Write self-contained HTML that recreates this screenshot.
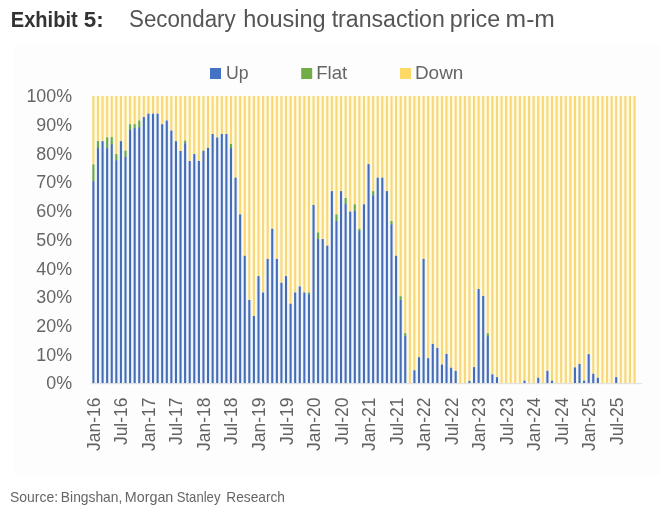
<!DOCTYPE html>
<html><head><meta charset="utf-8"><title>Exhibit 5</title>
<style>
html,body{margin:0;padding:0;background:#fff;}
body{width:660px;height:517px;overflow:hidden;position:relative;font-family:"Liberation Sans",sans-serif;}
#bg{position:absolute;left:13px;top:45px;width:647px;height:429.5px;background:#fdfdfd;}
svg{position:absolute;left:0;top:0;will-change:transform;}
.ax{font-family:"Liberation Sans",sans-serif;font-size:17.6px;fill:#666;}
.t1{font-family:"Liberation Sans",sans-serif;font-size:21.5px;font-weight:bold;fill:#333;}
.t2{font-family:"Liberation Sans",sans-serif;font-size:23px;fill:#555;}
.src{font-family:"Liberation Sans",sans-serif;font-size:14.6px;fill:#666;}
.xl{font-family:"Liberation Sans",sans-serif;font-size:17.9px;fill:#626262;}
.lg{font-family:"Liberation Sans",sans-serif;font-size:18.5px;fill:#666;}
</style></head><body>
<div id="bg"></div>
<svg width="660" height="517" viewBox="0 0 660 517" shape-rendering="auto">
<g shape-rendering="crispEdges">
<rect x="91.95" y="96.10" width="3.743" height="68.33" fill="#fffce2"/>
<rect x="91.95" y="164.43" width="3.743" height="16.65" fill="#f0f8eb"/>
<rect x="91.95" y="181.08" width="3.743" height="202.12" fill="#f0f6ff"/>
<rect x="95.69" y="96.10" width="4.586" height="45.07" fill="#fffce2"/>
<rect x="95.69" y="141.17" width="4.586" height="6.89" fill="#f0f8eb"/>
<rect x="95.69" y="148.07" width="4.586" height="235.13" fill="#f0f6ff"/>
<rect x="100.28" y="96.10" width="4.586" height="45.07" fill="#fffce2"/>
<rect x="100.28" y="141.17" width="4.586" height="242.03" fill="#f0f6ff"/>
<rect x="104.86" y="96.10" width="4.586" height="41.34" fill="#fffce2"/>
<rect x="104.86" y="137.44" width="4.586" height="10.62" fill="#f0f8eb"/>
<rect x="104.86" y="148.07" width="4.586" height="235.13" fill="#f0f6ff"/>
<rect x="109.45" y="96.10" width="4.586" height="41.06" fill="#fffce2"/>
<rect x="109.45" y="137.16" width="4.586" height="6.89" fill="#f0f8eb"/>
<rect x="109.45" y="144.05" width="4.586" height="239.15" fill="#f0f6ff"/>
<rect x="114.04" y="96.10" width="4.586" height="57.99" fill="#fffce2"/>
<rect x="114.04" y="154.09" width="4.586" height="6.03" fill="#f0f8eb"/>
<rect x="114.04" y="160.12" width="4.586" height="223.08" fill="#f0f6ff"/>
<rect x="118.62" y="96.10" width="4.586" height="45.07" fill="#fffce2"/>
<rect x="118.62" y="141.17" width="4.586" height="242.03" fill="#f0f6ff"/>
<rect x="123.21" y="96.10" width="4.586" height="54.55" fill="#fffce2"/>
<rect x="123.21" y="150.65" width="4.586" height="6.32" fill="#f0f8eb"/>
<rect x="123.21" y="156.97" width="4.586" height="226.23" fill="#f0f6ff"/>
<rect x="127.80" y="96.10" width="4.586" height="28.14" fill="#fffce2"/>
<rect x="127.80" y="124.24" width="4.586" height="5.74" fill="#f0f8eb"/>
<rect x="127.80" y="129.98" width="4.586" height="253.22" fill="#f0f6ff"/>
<rect x="132.38" y="96.10" width="4.586" height="28.14" fill="#fffce2"/>
<rect x="132.38" y="124.24" width="4.586" height="3.73" fill="#f0f8eb"/>
<rect x="132.38" y="127.97" width="4.586" height="255.23" fill="#f0f6ff"/>
<rect x="136.97" y="96.10" width="4.586" height="24.40" fill="#fffce2"/>
<rect x="136.97" y="120.50" width="4.586" height="6.60" fill="#f0f8eb"/>
<rect x="136.97" y="127.11" width="4.586" height="256.09" fill="#f0f6ff"/>
<rect x="141.55" y="96.10" width="4.586" height="20.96" fill="#fffce2"/>
<rect x="141.55" y="117.06" width="4.586" height="266.14" fill="#f0f6ff"/>
<rect x="146.14" y="96.10" width="4.586" height="17.51" fill="#fffce2"/>
<rect x="146.14" y="113.61" width="4.586" height="269.59" fill="#f0f6ff"/>
<rect x="150.72" y="96.10" width="4.586" height="17.51" fill="#fffce2"/>
<rect x="150.72" y="113.61" width="4.586" height="269.59" fill="#f0f6ff"/>
<rect x="155.31" y="96.10" width="4.586" height="17.51" fill="#fffce2"/>
<rect x="155.31" y="113.61" width="4.586" height="269.59" fill="#f0f6ff"/>
<rect x="159.90" y="96.10" width="4.586" height="28.14" fill="#fffce2"/>
<rect x="159.90" y="124.24" width="4.586" height="258.96" fill="#f0f6ff"/>
<rect x="164.48" y="96.10" width="4.586" height="24.40" fill="#fffce2"/>
<rect x="164.48" y="120.50" width="4.586" height="262.70" fill="#f0f6ff"/>
<rect x="169.07" y="96.10" width="4.586" height="34.45" fill="#fffce2"/>
<rect x="169.07" y="130.55" width="4.586" height="252.65" fill="#f0f6ff"/>
<rect x="173.66" y="96.10" width="4.586" height="45.07" fill="#fffce2"/>
<rect x="173.66" y="141.17" width="4.586" height="242.03" fill="#f0f6ff"/>
<rect x="178.24" y="96.10" width="4.586" height="54.84" fill="#fffce2"/>
<rect x="178.24" y="150.94" width="4.586" height="232.26" fill="#f0f6ff"/>
<rect x="182.83" y="96.10" width="4.586" height="44.50" fill="#fffce2"/>
<rect x="182.83" y="140.60" width="4.586" height="2.58" fill="#f0f8eb"/>
<rect x="182.83" y="143.18" width="4.586" height="240.02" fill="#f0f6ff"/>
<rect x="187.41" y="96.10" width="4.586" height="64.88" fill="#fffce2"/>
<rect x="187.41" y="160.98" width="4.586" height="222.22" fill="#f0f6ff"/>
<rect x="192.00" y="96.10" width="4.586" height="57.99" fill="#fffce2"/>
<rect x="192.00" y="154.09" width="4.586" height="229.11" fill="#f0f6ff"/>
<rect x="196.59" y="96.10" width="4.586" height="64.88" fill="#fffce2"/>
<rect x="196.59" y="160.98" width="4.586" height="222.22" fill="#f0f6ff"/>
<rect x="201.17" y="96.10" width="4.586" height="54.55" fill="#fffce2"/>
<rect x="201.17" y="150.65" width="4.586" height="232.55" fill="#f0f6ff"/>
<rect x="205.76" y="96.10" width="4.586" height="51.68" fill="#fffce2"/>
<rect x="205.76" y="147.78" width="4.586" height="235.42" fill="#f0f6ff"/>
<rect x="210.34" y="96.10" width="4.586" height="37.90" fill="#fffce2"/>
<rect x="210.34" y="134.00" width="4.586" height="249.20" fill="#f0f6ff"/>
<rect x="214.93" y="96.10" width="4.586" height="41.34" fill="#fffce2"/>
<rect x="214.93" y="137.44" width="4.586" height="245.76" fill="#f0f6ff"/>
<rect x="219.52" y="96.10" width="4.586" height="37.90" fill="#fffce2"/>
<rect x="219.52" y="134.00" width="4.586" height="249.20" fill="#f0f6ff"/>
<rect x="224.10" y="96.10" width="4.586" height="37.90" fill="#fffce2"/>
<rect x="224.10" y="134.00" width="4.586" height="249.20" fill="#f0f6ff"/>
<rect x="228.69" y="96.10" width="4.586" height="47.95" fill="#fffce2"/>
<rect x="228.69" y="144.05" width="4.586" height="4.02" fill="#f0f8eb"/>
<rect x="228.69" y="148.07" width="4.586" height="235.13" fill="#f0f6ff"/>
<rect x="233.27" y="96.10" width="4.586" height="81.54" fill="#fffce2"/>
<rect x="233.27" y="177.64" width="4.586" height="205.56" fill="#f0f6ff"/>
<rect x="237.86" y="96.10" width="4.586" height="118.29" fill="#fffce2"/>
<rect x="237.86" y="214.39" width="4.586" height="168.81" fill="#f0f6ff"/>
<rect x="242.45" y="96.10" width="4.586" height="159.63" fill="#fffce2"/>
<rect x="242.45" y="255.73" width="4.586" height="127.47" fill="#f0f6ff"/>
<rect x="247.03" y="96.10" width="4.586" height="203.84" fill="#fffce2"/>
<rect x="247.03" y="299.94" width="4.586" height="83.26" fill="#f0f6ff"/>
<rect x="251.62" y="96.10" width="4.586" height="219.92" fill="#fffce2"/>
<rect x="251.62" y="316.02" width="4.586" height="67.18" fill="#f0f6ff"/>
<rect x="256.20" y="96.10" width="4.586" height="180.01" fill="#fffce2"/>
<rect x="256.20" y="276.11" width="4.586" height="107.09" fill="#f0f6ff"/>
<rect x="260.79" y="96.10" width="4.586" height="196.38" fill="#fffce2"/>
<rect x="260.79" y="292.48" width="4.586" height="90.72" fill="#f0f6ff"/>
<rect x="265.38" y="96.10" width="4.586" height="162.79" fill="#fffce2"/>
<rect x="265.38" y="258.89" width="4.586" height="124.31" fill="#f0f6ff"/>
<rect x="269.96" y="96.10" width="4.586" height="132.64" fill="#fffce2"/>
<rect x="269.96" y="228.74" width="4.586" height="154.46" fill="#f0f6ff"/>
<rect x="274.55" y="96.10" width="4.586" height="162.79" fill="#fffce2"/>
<rect x="274.55" y="258.89" width="4.586" height="124.31" fill="#f0f6ff"/>
<rect x="279.13" y="96.10" width="4.586" height="186.61" fill="#fffce2"/>
<rect x="279.13" y="282.71" width="4.586" height="100.49" fill="#f0f6ff"/>
<rect x="283.72" y="96.10" width="4.586" height="180.01" fill="#fffce2"/>
<rect x="283.72" y="276.11" width="4.586" height="107.09" fill="#f0f6ff"/>
<rect x="288.31" y="96.10" width="4.586" height="207.57" fill="#fffce2"/>
<rect x="288.31" y="303.67" width="4.586" height="79.53" fill="#f0f6ff"/>
<rect x="292.89" y="96.10" width="4.586" height="196.38" fill="#fffce2"/>
<rect x="292.89" y="292.48" width="4.586" height="90.72" fill="#f0f6ff"/>
<rect x="297.48" y="96.10" width="4.586" height="190.35" fill="#fffce2"/>
<rect x="297.48" y="286.45" width="4.586" height="96.75" fill="#f0f6ff"/>
<rect x="302.06" y="96.10" width="4.586" height="196.38" fill="#fffce2"/>
<rect x="302.06" y="292.48" width="4.586" height="90.72" fill="#f0f6ff"/>
<rect x="306.65" y="96.10" width="4.586" height="196.38" fill="#fffce2"/>
<rect x="306.65" y="292.48" width="4.586" height="1.72" fill="#f0f8eb"/>
<rect x="306.65" y="294.20" width="4.586" height="89.00" fill="#f0f6ff"/>
<rect x="311.24" y="96.10" width="4.586" height="108.81" fill="#fffce2"/>
<rect x="311.24" y="204.91" width="4.586" height="178.29" fill="#f0f6ff"/>
<rect x="315.82" y="96.10" width="4.586" height="136.37" fill="#fffce2"/>
<rect x="315.82" y="232.47" width="4.586" height="6.60" fill="#f0f8eb"/>
<rect x="315.82" y="239.08" width="4.586" height="144.12" fill="#f0f6ff"/>
<rect x="320.41" y="96.10" width="4.586" height="142.98" fill="#fffce2"/>
<rect x="320.41" y="239.08" width="4.586" height="144.12" fill="#f0f6ff"/>
<rect x="324.99" y="96.10" width="4.586" height="149.58" fill="#fffce2"/>
<rect x="324.99" y="245.68" width="4.586" height="137.52" fill="#f0f6ff"/>
<rect x="329.58" y="96.10" width="4.586" height="95.03" fill="#fffce2"/>
<rect x="329.58" y="191.13" width="4.586" height="192.07" fill="#f0f6ff"/>
<rect x="334.17" y="96.10" width="4.586" height="118.29" fill="#fffce2"/>
<rect x="334.17" y="214.39" width="4.586" height="6.60" fill="#f0f8eb"/>
<rect x="334.17" y="220.99" width="4.586" height="162.21" fill="#f0f6ff"/>
<rect x="338.75" y="96.10" width="4.586" height="95.03" fill="#fffce2"/>
<rect x="338.75" y="191.13" width="4.586" height="192.07" fill="#f0f6ff"/>
<rect x="343.34" y="96.10" width="4.586" height="101.92" fill="#fffce2"/>
<rect x="343.34" y="198.02" width="4.586" height="6.03" fill="#f0f8eb"/>
<rect x="343.34" y="204.05" width="4.586" height="179.15" fill="#f0f6ff"/>
<rect x="347.92" y="96.10" width="4.586" height="115.41" fill="#fffce2"/>
<rect x="347.92" y="211.51" width="4.586" height="171.69" fill="#f0f6ff"/>
<rect x="352.51" y="96.10" width="4.586" height="108.24" fill="#fffce2"/>
<rect x="352.51" y="204.34" width="4.586" height="6.60" fill="#f0f8eb"/>
<rect x="352.51" y="210.94" width="4.586" height="172.26" fill="#f0f6ff"/>
<rect x="357.10" y="96.10" width="4.586" height="132.64" fill="#fffce2"/>
<rect x="357.10" y="228.74" width="4.586" height="2.30" fill="#f0f8eb"/>
<rect x="357.10" y="231.04" width="4.586" height="152.16" fill="#f0f6ff"/>
<rect x="361.68" y="96.10" width="4.586" height="108.24" fill="#fffce2"/>
<rect x="361.68" y="204.34" width="4.586" height="178.86" fill="#f0f6ff"/>
<rect x="366.27" y="96.10" width="4.586" height="68.04" fill="#fffce2"/>
<rect x="366.27" y="164.14" width="4.586" height="219.06" fill="#f0f6ff"/>
<rect x="370.85" y="96.10" width="4.586" height="95.03" fill="#fffce2"/>
<rect x="370.85" y="191.13" width="4.586" height="4.02" fill="#f0f8eb"/>
<rect x="370.85" y="195.15" width="4.586" height="188.05" fill="#f0f6ff"/>
<rect x="375.44" y="96.10" width="4.586" height="81.54" fill="#fffce2"/>
<rect x="375.44" y="177.64" width="4.586" height="205.56" fill="#f0f6ff"/>
<rect x="380.02" y="96.10" width="4.586" height="81.54" fill="#fffce2"/>
<rect x="380.02" y="177.64" width="4.586" height="205.56" fill="#f0f6ff"/>
<rect x="384.61" y="96.10" width="4.586" height="95.03" fill="#fffce2"/>
<rect x="384.61" y="191.13" width="4.586" height="192.07" fill="#f0f6ff"/>
<rect x="389.20" y="96.10" width="4.586" height="124.89" fill="#fffce2"/>
<rect x="389.20" y="220.99" width="4.586" height="3.16" fill="#f0f8eb"/>
<rect x="389.20" y="224.15" width="4.586" height="159.05" fill="#f0f6ff"/>
<rect x="393.78" y="96.10" width="4.586" height="159.63" fill="#fffce2"/>
<rect x="393.78" y="255.73" width="4.586" height="127.47" fill="#f0f6ff"/>
<rect x="398.37" y="96.10" width="4.586" height="200.11" fill="#fffce2"/>
<rect x="398.37" y="296.21" width="4.586" height="3.73" fill="#f0f8eb"/>
<rect x="398.37" y="299.94" width="4.586" height="83.26" fill="#f0f6ff"/>
<rect x="402.96" y="96.10" width="4.586" height="237.14" fill="#fffce2"/>
<rect x="402.96" y="333.24" width="4.586" height="2.58" fill="#f0f8eb"/>
<rect x="402.96" y="335.83" width="4.586" height="47.37" fill="#f0f6ff"/>
<rect x="407.54" y="96.10" width="4.586" height="287.10" fill="#fffce2"/>
<rect x="412.13" y="96.10" width="4.586" height="274.18" fill="#fffce2"/>
<rect x="412.13" y="370.28" width="4.586" height="12.92" fill="#f0f6ff"/>
<rect x="416.71" y="96.10" width="4.586" height="261.12" fill="#fffce2"/>
<rect x="416.71" y="357.22" width="4.586" height="25.98" fill="#f0f6ff"/>
<rect x="421.30" y="96.10" width="4.586" height="162.79" fill="#fffce2"/>
<rect x="421.30" y="258.89" width="4.586" height="124.31" fill="#f0f6ff"/>
<rect x="425.88" y="96.10" width="4.586" height="262.12" fill="#fffce2"/>
<rect x="425.88" y="358.22" width="4.586" height="24.98" fill="#f0f6ff"/>
<rect x="430.47" y="96.10" width="4.586" height="247.77" fill="#fffce2"/>
<rect x="430.47" y="343.87" width="4.586" height="39.33" fill="#f0f6ff"/>
<rect x="435.06" y="96.10" width="4.586" height="251.79" fill="#fffce2"/>
<rect x="435.06" y="347.89" width="4.586" height="35.31" fill="#f0f6ff"/>
<rect x="439.64" y="96.10" width="4.586" height="268.44" fill="#fffce2"/>
<rect x="439.64" y="364.54" width="4.586" height="18.66" fill="#f0f6ff"/>
<rect x="444.23" y="96.10" width="4.586" height="257.82" fill="#fffce2"/>
<rect x="444.23" y="353.92" width="4.586" height="29.28" fill="#f0f6ff"/>
<rect x="448.82" y="96.10" width="4.586" height="271.60" fill="#fffce2"/>
<rect x="448.82" y="367.70" width="4.586" height="15.50" fill="#f0f6ff"/>
<rect x="453.40" y="96.10" width="4.586" height="274.75" fill="#fffce2"/>
<rect x="453.40" y="370.85" width="4.586" height="12.35" fill="#f0f6ff"/>
<rect x="457.99" y="96.10" width="4.586" height="287.10" fill="#fffce2"/>
<rect x="462.57" y="96.10" width="4.586" height="287.10" fill="#fffce2"/>
<rect x="467.16" y="96.10" width="4.586" height="284.80" fill="#fffce2"/>
<rect x="467.16" y="380.90" width="4.586" height="2.30" fill="#f0f6ff"/>
<rect x="471.75" y="96.10" width="4.586" height="271.02" fill="#fffce2"/>
<rect x="471.75" y="367.12" width="4.586" height="16.08" fill="#f0f6ff"/>
<rect x="476.33" y="96.10" width="4.586" height="192.93" fill="#fffce2"/>
<rect x="476.33" y="289.03" width="4.586" height="94.17" fill="#f0f6ff"/>
<rect x="480.92" y="96.10" width="4.586" height="199.82" fill="#fffce2"/>
<rect x="480.92" y="295.92" width="4.586" height="87.28" fill="#f0f6ff"/>
<rect x="485.50" y="96.10" width="4.586" height="237.14" fill="#fffce2"/>
<rect x="485.50" y="333.24" width="4.586" height="2.87" fill="#f0f8eb"/>
<rect x="485.50" y="336.12" width="4.586" height="47.08" fill="#f0f6ff"/>
<rect x="490.09" y="96.10" width="4.586" height="278.20" fill="#fffce2"/>
<rect x="490.09" y="374.30" width="4.586" height="8.90" fill="#f0f6ff"/>
<rect x="494.68" y="96.10" width="4.586" height="281.07" fill="#fffce2"/>
<rect x="494.68" y="377.17" width="4.586" height="6.03" fill="#f0f6ff"/>
<rect x="499.26" y="96.10" width="4.586" height="287.10" fill="#fffce2"/>
<rect x="503.85" y="96.10" width="4.586" height="287.10" fill="#fffce2"/>
<rect x="508.43" y="96.10" width="4.586" height="287.10" fill="#fffce2"/>
<rect x="513.02" y="96.10" width="4.586" height="287.10" fill="#fffce2"/>
<rect x="517.61" y="96.10" width="4.586" height="287.10" fill="#fffce2"/>
<rect x="522.19" y="96.10" width="4.586" height="284.52" fill="#fffce2"/>
<rect x="522.19" y="380.62" width="4.586" height="2.58" fill="#f0f6ff"/>
<rect x="526.78" y="96.10" width="4.586" height="287.10" fill="#fffce2"/>
<rect x="531.36" y="96.10" width="4.586" height="287.10" fill="#fffce2"/>
<rect x="535.95" y="96.10" width="4.586" height="281.65" fill="#fffce2"/>
<rect x="535.95" y="377.75" width="4.586" height="5.45" fill="#f0f6ff"/>
<rect x="540.54" y="96.10" width="4.586" height="287.10" fill="#fffce2"/>
<rect x="545.12" y="96.10" width="4.586" height="274.75" fill="#fffce2"/>
<rect x="545.12" y="370.85" width="4.586" height="12.35" fill="#f0f6ff"/>
<rect x="549.71" y="96.10" width="4.586" height="284.52" fill="#fffce2"/>
<rect x="549.71" y="380.62" width="4.586" height="2.58" fill="#f0f6ff"/>
<rect x="554.29" y="96.10" width="4.586" height="287.10" fill="#fffce2"/>
<rect x="558.88" y="96.10" width="4.586" height="287.10" fill="#fffce2"/>
<rect x="563.47" y="96.10" width="4.586" height="287.10" fill="#fffce2"/>
<rect x="568.05" y="96.10" width="4.586" height="287.10" fill="#fffce2"/>
<rect x="572.64" y="96.10" width="4.586" height="271.31" fill="#fffce2"/>
<rect x="572.64" y="367.41" width="4.586" height="15.79" fill="#f0f6ff"/>
<rect x="577.22" y="96.10" width="4.586" height="267.86" fill="#fffce2"/>
<rect x="577.22" y="363.96" width="4.586" height="19.24" fill="#f0f6ff"/>
<rect x="581.81" y="96.10" width="4.586" height="284.52" fill="#fffce2"/>
<rect x="581.81" y="380.62" width="4.586" height="2.58" fill="#f0f6ff"/>
<rect x="586.39" y="96.10" width="4.586" height="258.10" fill="#fffce2"/>
<rect x="586.39" y="354.20" width="4.586" height="29.00" fill="#f0f6ff"/>
<rect x="590.98" y="96.10" width="4.586" height="277.63" fill="#fffce2"/>
<rect x="590.98" y="373.73" width="4.586" height="9.47" fill="#f0f6ff"/>
<rect x="595.57" y="96.10" width="4.586" height="281.65" fill="#fffce2"/>
<rect x="595.57" y="377.75" width="4.586" height="5.45" fill="#f0f6ff"/>
<rect x="600.15" y="96.10" width="4.586" height="287.10" fill="#fffce2"/>
<rect x="604.74" y="96.10" width="4.586" height="287.10" fill="#fffce2"/>
<rect x="609.33" y="96.10" width="4.586" height="287.10" fill="#fffce2"/>
<rect x="613.91" y="96.10" width="4.586" height="281.07" fill="#fffce2"/>
<rect x="613.91" y="377.17" width="4.586" height="6.03" fill="#f0f6ff"/>
<rect x="618.50" y="96.10" width="4.586" height="287.10" fill="#fffce2"/>
<rect x="623.08" y="96.10" width="4.586" height="287.10" fill="#fffce2"/>
<rect x="627.67" y="96.10" width="4.586" height="287.10" fill="#fffce2"/>
<rect x="632.25" y="96.10" width="3.743" height="287.10" fill="#fffce2"/>
</g>
<g>
<rect x="92.35" y="96.10" width="2.1" height="68.33" fill="#f8d679"/>
<rect x="92.35" y="164.43" width="2.1" height="16.65" fill="#6ca646"/>
<rect x="92.35" y="181.08" width="2.1" height="202.12" fill="#466cb4"/>
<rect x="96.94" y="96.10" width="2.1" height="45.07" fill="#f8d679"/>
<rect x="96.94" y="141.17" width="2.1" height="6.89" fill="#6ca646"/>
<rect x="96.94" y="148.07" width="2.1" height="235.13" fill="#466cb4"/>
<rect x="101.52" y="96.10" width="2.1" height="45.07" fill="#f8d679"/>
<rect x="101.52" y="141.17" width="2.1" height="242.03" fill="#466cb4"/>
<rect x="106.11" y="96.10" width="2.1" height="41.34" fill="#f8d679"/>
<rect x="106.11" y="137.44" width="2.1" height="10.62" fill="#6ca646"/>
<rect x="106.11" y="148.07" width="2.1" height="235.13" fill="#466cb4"/>
<rect x="110.69" y="96.10" width="2.1" height="41.06" fill="#f8d679"/>
<rect x="110.69" y="137.16" width="2.1" height="6.89" fill="#6ca646"/>
<rect x="110.69" y="144.05" width="2.1" height="239.15" fill="#466cb4"/>
<rect x="115.28" y="96.10" width="2.1" height="57.99" fill="#f8d679"/>
<rect x="115.28" y="154.09" width="2.1" height="6.03" fill="#6ca646"/>
<rect x="115.28" y="160.12" width="2.1" height="223.08" fill="#466cb4"/>
<rect x="119.87" y="96.10" width="2.1" height="45.07" fill="#f8d679"/>
<rect x="119.87" y="141.17" width="2.1" height="242.03" fill="#466cb4"/>
<rect x="124.45" y="96.10" width="2.1" height="54.55" fill="#f8d679"/>
<rect x="124.45" y="150.65" width="2.1" height="6.32" fill="#6ca646"/>
<rect x="124.45" y="156.97" width="2.1" height="226.23" fill="#466cb4"/>
<rect x="129.04" y="96.10" width="2.1" height="28.14" fill="#f8d679"/>
<rect x="129.04" y="124.24" width="2.1" height="5.74" fill="#6ca646"/>
<rect x="129.04" y="129.98" width="2.1" height="253.22" fill="#466cb4"/>
<rect x="133.62" y="96.10" width="2.1" height="28.14" fill="#f8d679"/>
<rect x="133.62" y="124.24" width="2.1" height="3.73" fill="#6ca646"/>
<rect x="133.62" y="127.97" width="2.1" height="255.23" fill="#466cb4"/>
<rect x="138.21" y="96.10" width="2.1" height="24.40" fill="#f8d679"/>
<rect x="138.21" y="120.50" width="2.1" height="6.60" fill="#6ca646"/>
<rect x="138.21" y="127.11" width="2.1" height="256.09" fill="#466cb4"/>
<rect x="142.80" y="96.10" width="2.1" height="20.96" fill="#f8d679"/>
<rect x="142.80" y="117.06" width="2.1" height="266.14" fill="#466cb4"/>
<rect x="147.38" y="96.10" width="2.1" height="17.51" fill="#f8d679"/>
<rect x="147.38" y="113.61" width="2.1" height="269.59" fill="#466cb4"/>
<rect x="151.97" y="96.10" width="2.1" height="17.51" fill="#f8d679"/>
<rect x="151.97" y="113.61" width="2.1" height="269.59" fill="#466cb4"/>
<rect x="156.55" y="96.10" width="2.1" height="17.51" fill="#f8d679"/>
<rect x="156.55" y="113.61" width="2.1" height="269.59" fill="#466cb4"/>
<rect x="161.14" y="96.10" width="2.1" height="28.14" fill="#f8d679"/>
<rect x="161.14" y="124.24" width="2.1" height="258.96" fill="#466cb4"/>
<rect x="165.73" y="96.10" width="2.1" height="24.40" fill="#f8d679"/>
<rect x="165.73" y="120.50" width="2.1" height="262.70" fill="#466cb4"/>
<rect x="170.31" y="96.10" width="2.1" height="34.45" fill="#f8d679"/>
<rect x="170.31" y="130.55" width="2.1" height="252.65" fill="#466cb4"/>
<rect x="174.90" y="96.10" width="2.1" height="45.07" fill="#f8d679"/>
<rect x="174.90" y="141.17" width="2.1" height="242.03" fill="#466cb4"/>
<rect x="179.48" y="96.10" width="2.1" height="54.84" fill="#f8d679"/>
<rect x="179.48" y="150.94" width="2.1" height="232.26" fill="#466cb4"/>
<rect x="184.07" y="96.10" width="2.1" height="44.50" fill="#f8d679"/>
<rect x="184.07" y="140.60" width="2.1" height="2.58" fill="#6ca646"/>
<rect x="184.07" y="143.18" width="2.1" height="240.02" fill="#466cb4"/>
<rect x="188.66" y="96.10" width="2.1" height="64.88" fill="#f8d679"/>
<rect x="188.66" y="160.98" width="2.1" height="222.22" fill="#466cb4"/>
<rect x="193.24" y="96.10" width="2.1" height="57.99" fill="#f8d679"/>
<rect x="193.24" y="154.09" width="2.1" height="229.11" fill="#466cb4"/>
<rect x="197.83" y="96.10" width="2.1" height="64.88" fill="#f8d679"/>
<rect x="197.83" y="160.98" width="2.1" height="222.22" fill="#466cb4"/>
<rect x="202.41" y="96.10" width="2.1" height="54.55" fill="#f8d679"/>
<rect x="202.41" y="150.65" width="2.1" height="232.55" fill="#466cb4"/>
<rect x="207.00" y="96.10" width="2.1" height="51.68" fill="#f8d679"/>
<rect x="207.00" y="147.78" width="2.1" height="235.42" fill="#466cb4"/>
<rect x="211.59" y="96.10" width="2.1" height="37.90" fill="#f8d679"/>
<rect x="211.59" y="134.00" width="2.1" height="249.20" fill="#466cb4"/>
<rect x="216.17" y="96.10" width="2.1" height="41.34" fill="#f8d679"/>
<rect x="216.17" y="137.44" width="2.1" height="245.76" fill="#466cb4"/>
<rect x="220.76" y="96.10" width="2.1" height="37.90" fill="#f8d679"/>
<rect x="220.76" y="134.00" width="2.1" height="249.20" fill="#466cb4"/>
<rect x="225.34" y="96.10" width="2.1" height="37.90" fill="#f8d679"/>
<rect x="225.34" y="134.00" width="2.1" height="249.20" fill="#466cb4"/>
<rect x="229.93" y="96.10" width="2.1" height="47.95" fill="#f8d679"/>
<rect x="229.93" y="144.05" width="2.1" height="4.02" fill="#6ca646"/>
<rect x="229.93" y="148.07" width="2.1" height="235.13" fill="#466cb4"/>
<rect x="234.52" y="96.10" width="2.1" height="81.54" fill="#f8d679"/>
<rect x="234.52" y="177.64" width="2.1" height="205.56" fill="#466cb4"/>
<rect x="239.10" y="96.10" width="2.1" height="118.29" fill="#f8d679"/>
<rect x="239.10" y="214.39" width="2.1" height="168.81" fill="#466cb4"/>
<rect x="243.69" y="96.10" width="2.1" height="159.63" fill="#f8d679"/>
<rect x="243.69" y="255.73" width="2.1" height="127.47" fill="#466cb4"/>
<rect x="248.27" y="96.10" width="2.1" height="203.84" fill="#f8d679"/>
<rect x="248.27" y="299.94" width="2.1" height="83.26" fill="#466cb4"/>
<rect x="252.86" y="96.10" width="2.1" height="219.92" fill="#f8d679"/>
<rect x="252.86" y="316.02" width="2.1" height="67.18" fill="#466cb4"/>
<rect x="257.45" y="96.10" width="2.1" height="180.01" fill="#f8d679"/>
<rect x="257.45" y="276.11" width="2.1" height="107.09" fill="#466cb4"/>
<rect x="262.03" y="96.10" width="2.1" height="196.38" fill="#f8d679"/>
<rect x="262.03" y="292.48" width="2.1" height="90.72" fill="#466cb4"/>
<rect x="266.62" y="96.10" width="2.1" height="162.79" fill="#f8d679"/>
<rect x="266.62" y="258.89" width="2.1" height="124.31" fill="#466cb4"/>
<rect x="271.20" y="96.10" width="2.1" height="132.64" fill="#f8d679"/>
<rect x="271.20" y="228.74" width="2.1" height="154.46" fill="#466cb4"/>
<rect x="275.79" y="96.10" width="2.1" height="162.79" fill="#f8d679"/>
<rect x="275.79" y="258.89" width="2.1" height="124.31" fill="#466cb4"/>
<rect x="280.38" y="96.10" width="2.1" height="186.61" fill="#f8d679"/>
<rect x="280.38" y="282.71" width="2.1" height="100.49" fill="#466cb4"/>
<rect x="284.96" y="96.10" width="2.1" height="180.01" fill="#f8d679"/>
<rect x="284.96" y="276.11" width="2.1" height="107.09" fill="#466cb4"/>
<rect x="289.55" y="96.10" width="2.1" height="207.57" fill="#f8d679"/>
<rect x="289.55" y="303.67" width="2.1" height="79.53" fill="#466cb4"/>
<rect x="294.13" y="96.10" width="2.1" height="196.38" fill="#f8d679"/>
<rect x="294.13" y="292.48" width="2.1" height="90.72" fill="#466cb4"/>
<rect x="298.72" y="96.10" width="2.1" height="190.35" fill="#f8d679"/>
<rect x="298.72" y="286.45" width="2.1" height="96.75" fill="#466cb4"/>
<rect x="303.31" y="96.10" width="2.1" height="196.38" fill="#f8d679"/>
<rect x="303.31" y="292.48" width="2.1" height="90.72" fill="#466cb4"/>
<rect x="307.89" y="96.10" width="2.1" height="196.38" fill="#f8d679"/>
<rect x="307.89" y="292.48" width="2.1" height="1.72" fill="#6ca646"/>
<rect x="307.89" y="294.20" width="2.1" height="89.00" fill="#466cb4"/>
<rect x="312.48" y="96.10" width="2.1" height="108.81" fill="#f8d679"/>
<rect x="312.48" y="204.91" width="2.1" height="178.29" fill="#466cb4"/>
<rect x="317.06" y="96.10" width="2.1" height="136.37" fill="#f8d679"/>
<rect x="317.06" y="232.47" width="2.1" height="6.60" fill="#6ca646"/>
<rect x="317.06" y="239.08" width="2.1" height="144.12" fill="#466cb4"/>
<rect x="321.65" y="96.10" width="2.1" height="142.98" fill="#f8d679"/>
<rect x="321.65" y="239.08" width="2.1" height="144.12" fill="#466cb4"/>
<rect x="326.24" y="96.10" width="2.1" height="149.58" fill="#f8d679"/>
<rect x="326.24" y="245.68" width="2.1" height="137.52" fill="#466cb4"/>
<rect x="330.82" y="96.10" width="2.1" height="95.03" fill="#f8d679"/>
<rect x="330.82" y="191.13" width="2.1" height="192.07" fill="#466cb4"/>
<rect x="335.41" y="96.10" width="2.1" height="118.29" fill="#f8d679"/>
<rect x="335.41" y="214.39" width="2.1" height="6.60" fill="#6ca646"/>
<rect x="335.41" y="220.99" width="2.1" height="162.21" fill="#466cb4"/>
<rect x="339.99" y="96.10" width="2.1" height="95.03" fill="#f8d679"/>
<rect x="339.99" y="191.13" width="2.1" height="192.07" fill="#466cb4"/>
<rect x="344.58" y="96.10" width="2.1" height="101.92" fill="#f8d679"/>
<rect x="344.58" y="198.02" width="2.1" height="6.03" fill="#6ca646"/>
<rect x="344.58" y="204.05" width="2.1" height="179.15" fill="#466cb4"/>
<rect x="349.17" y="96.10" width="2.1" height="115.41" fill="#f8d679"/>
<rect x="349.17" y="211.51" width="2.1" height="171.69" fill="#466cb4"/>
<rect x="353.75" y="96.10" width="2.1" height="108.24" fill="#f8d679"/>
<rect x="353.75" y="204.34" width="2.1" height="6.60" fill="#6ca646"/>
<rect x="353.75" y="210.94" width="2.1" height="172.26" fill="#466cb4"/>
<rect x="358.34" y="96.10" width="2.1" height="132.64" fill="#f8d679"/>
<rect x="358.34" y="228.74" width="2.1" height="2.30" fill="#6ca646"/>
<rect x="358.34" y="231.04" width="2.1" height="152.16" fill="#466cb4"/>
<rect x="362.92" y="96.10" width="2.1" height="108.24" fill="#f8d679"/>
<rect x="362.92" y="204.34" width="2.1" height="178.86" fill="#466cb4"/>
<rect x="367.51" y="96.10" width="2.1" height="68.04" fill="#f8d679"/>
<rect x="367.51" y="164.14" width="2.1" height="219.06" fill="#466cb4"/>
<rect x="372.10" y="96.10" width="2.1" height="95.03" fill="#f8d679"/>
<rect x="372.10" y="191.13" width="2.1" height="4.02" fill="#6ca646"/>
<rect x="372.10" y="195.15" width="2.1" height="188.05" fill="#466cb4"/>
<rect x="376.68" y="96.10" width="2.1" height="81.54" fill="#f8d679"/>
<rect x="376.68" y="177.64" width="2.1" height="205.56" fill="#466cb4"/>
<rect x="381.27" y="96.10" width="2.1" height="81.54" fill="#f8d679"/>
<rect x="381.27" y="177.64" width="2.1" height="205.56" fill="#466cb4"/>
<rect x="385.85" y="96.10" width="2.1" height="95.03" fill="#f8d679"/>
<rect x="385.85" y="191.13" width="2.1" height="192.07" fill="#466cb4"/>
<rect x="390.44" y="96.10" width="2.1" height="124.89" fill="#f8d679"/>
<rect x="390.44" y="220.99" width="2.1" height="3.16" fill="#6ca646"/>
<rect x="390.44" y="224.15" width="2.1" height="159.05" fill="#466cb4"/>
<rect x="395.03" y="96.10" width="2.1" height="159.63" fill="#f8d679"/>
<rect x="395.03" y="255.73" width="2.1" height="127.47" fill="#466cb4"/>
<rect x="399.61" y="96.10" width="2.1" height="200.11" fill="#f8d679"/>
<rect x="399.61" y="296.21" width="2.1" height="3.73" fill="#6ca646"/>
<rect x="399.61" y="299.94" width="2.1" height="83.26" fill="#466cb4"/>
<rect x="404.20" y="96.10" width="2.1" height="237.14" fill="#f8d679"/>
<rect x="404.20" y="333.24" width="2.1" height="2.58" fill="#6ca646"/>
<rect x="404.20" y="335.83" width="2.1" height="47.37" fill="#466cb4"/>
<rect x="408.78" y="96.10" width="2.1" height="287.10" fill="#f8d679"/>
<rect x="413.37" y="96.10" width="2.1" height="274.18" fill="#f8d679"/>
<rect x="413.37" y="370.28" width="2.1" height="12.92" fill="#466cb4"/>
<rect x="417.96" y="96.10" width="2.1" height="261.12" fill="#f8d679"/>
<rect x="417.96" y="357.22" width="2.1" height="25.98" fill="#466cb4"/>
<rect x="422.54" y="96.10" width="2.1" height="162.79" fill="#f8d679"/>
<rect x="422.54" y="258.89" width="2.1" height="124.31" fill="#466cb4"/>
<rect x="427.13" y="96.10" width="2.1" height="262.12" fill="#f8d679"/>
<rect x="427.13" y="358.22" width="2.1" height="24.98" fill="#466cb4"/>
<rect x="431.71" y="96.10" width="2.1" height="247.77" fill="#f8d679"/>
<rect x="431.71" y="343.87" width="2.1" height="39.33" fill="#466cb4"/>
<rect x="436.30" y="96.10" width="2.1" height="251.79" fill="#f8d679"/>
<rect x="436.30" y="347.89" width="2.1" height="35.31" fill="#466cb4"/>
<rect x="440.89" y="96.10" width="2.1" height="268.44" fill="#f8d679"/>
<rect x="440.89" y="364.54" width="2.1" height="18.66" fill="#466cb4"/>
<rect x="445.47" y="96.10" width="2.1" height="257.82" fill="#f8d679"/>
<rect x="445.47" y="353.92" width="2.1" height="29.28" fill="#466cb4"/>
<rect x="450.06" y="96.10" width="2.1" height="271.60" fill="#f8d679"/>
<rect x="450.06" y="367.70" width="2.1" height="15.50" fill="#466cb4"/>
<rect x="454.64" y="96.10" width="2.1" height="274.75" fill="#f8d679"/>
<rect x="454.64" y="370.85" width="2.1" height="12.35" fill="#466cb4"/>
<rect x="459.23" y="96.10" width="2.1" height="287.10" fill="#f8d679"/>
<rect x="463.82" y="96.10" width="2.1" height="287.10" fill="#f8d679"/>
<rect x="468.40" y="96.10" width="2.1" height="284.80" fill="#f8d679"/>
<rect x="468.40" y="380.90" width="2.1" height="2.30" fill="#466cb4"/>
<rect x="472.99" y="96.10" width="2.1" height="271.02" fill="#f8d679"/>
<rect x="472.99" y="367.12" width="2.1" height="16.08" fill="#466cb4"/>
<rect x="477.57" y="96.10" width="2.1" height="192.93" fill="#f8d679"/>
<rect x="477.57" y="289.03" width="2.1" height="94.17" fill="#466cb4"/>
<rect x="482.16" y="96.10" width="2.1" height="199.82" fill="#f8d679"/>
<rect x="482.16" y="295.92" width="2.1" height="87.28" fill="#466cb4"/>
<rect x="486.75" y="96.10" width="2.1" height="237.14" fill="#f8d679"/>
<rect x="486.75" y="333.24" width="2.1" height="2.87" fill="#6ca646"/>
<rect x="486.75" y="336.12" width="2.1" height="47.08" fill="#466cb4"/>
<rect x="491.33" y="96.10" width="2.1" height="278.20" fill="#f8d679"/>
<rect x="491.33" y="374.30" width="2.1" height="8.90" fill="#466cb4"/>
<rect x="495.92" y="96.10" width="2.1" height="281.07" fill="#f8d679"/>
<rect x="495.92" y="377.17" width="2.1" height="6.03" fill="#466cb4"/>
<rect x="500.50" y="96.10" width="2.1" height="287.10" fill="#f8d679"/>
<rect x="505.09" y="96.10" width="2.1" height="287.10" fill="#f8d679"/>
<rect x="509.68" y="96.10" width="2.1" height="287.10" fill="#f8d679"/>
<rect x="514.26" y="96.10" width="2.1" height="287.10" fill="#f8d679"/>
<rect x="518.85" y="96.10" width="2.1" height="287.10" fill="#f8d679"/>
<rect x="523.43" y="96.10" width="2.1" height="284.52" fill="#f8d679"/>
<rect x="523.43" y="380.62" width="2.1" height="2.58" fill="#466cb4"/>
<rect x="528.02" y="96.10" width="2.1" height="287.10" fill="#f8d679"/>
<rect x="532.61" y="96.10" width="2.1" height="287.10" fill="#f8d679"/>
<rect x="537.19" y="96.10" width="2.1" height="281.65" fill="#f8d679"/>
<rect x="537.19" y="377.75" width="2.1" height="5.45" fill="#466cb4"/>
<rect x="541.78" y="96.10" width="2.1" height="287.10" fill="#f8d679"/>
<rect x="546.36" y="96.10" width="2.1" height="274.75" fill="#f8d679"/>
<rect x="546.36" y="370.85" width="2.1" height="12.35" fill="#466cb4"/>
<rect x="550.95" y="96.10" width="2.1" height="284.52" fill="#f8d679"/>
<rect x="550.95" y="380.62" width="2.1" height="2.58" fill="#466cb4"/>
<rect x="555.54" y="96.10" width="2.1" height="287.10" fill="#f8d679"/>
<rect x="560.12" y="96.10" width="2.1" height="287.10" fill="#f8d679"/>
<rect x="564.71" y="96.10" width="2.1" height="287.10" fill="#f8d679"/>
<rect x="569.29" y="96.10" width="2.1" height="287.10" fill="#f8d679"/>
<rect x="573.88" y="96.10" width="2.1" height="271.31" fill="#f8d679"/>
<rect x="573.88" y="367.41" width="2.1" height="15.79" fill="#466cb4"/>
<rect x="578.47" y="96.10" width="2.1" height="267.86" fill="#f8d679"/>
<rect x="578.47" y="363.96" width="2.1" height="19.24" fill="#466cb4"/>
<rect x="583.05" y="96.10" width="2.1" height="284.52" fill="#f8d679"/>
<rect x="583.05" y="380.62" width="2.1" height="2.58" fill="#466cb4"/>
<rect x="587.64" y="96.10" width="2.1" height="258.10" fill="#f8d679"/>
<rect x="587.64" y="354.20" width="2.1" height="29.00" fill="#466cb4"/>
<rect x="592.22" y="96.10" width="2.1" height="277.63" fill="#f8d679"/>
<rect x="592.22" y="373.73" width="2.1" height="9.47" fill="#466cb4"/>
<rect x="596.81" y="96.10" width="2.1" height="281.65" fill="#f8d679"/>
<rect x="596.81" y="377.75" width="2.1" height="5.45" fill="#466cb4"/>
<rect x="601.40" y="96.10" width="2.1" height="287.10" fill="#f8d679"/>
<rect x="605.98" y="96.10" width="2.1" height="287.10" fill="#f8d679"/>
<rect x="610.57" y="96.10" width="2.1" height="287.10" fill="#f8d679"/>
<rect x="615.15" y="96.10" width="2.1" height="281.07" fill="#f8d679"/>
<rect x="615.15" y="377.17" width="2.1" height="6.03" fill="#466cb4"/>
<rect x="619.74" y="96.10" width="2.1" height="287.10" fill="#f8d679"/>
<rect x="624.33" y="96.10" width="2.1" height="287.10" fill="#f8d679"/>
<rect x="628.91" y="96.10" width="2.1" height="287.10" fill="#f8d679"/>
<rect x="633.50" y="96.10" width="2.1" height="287.10" fill="#f8d679"/>
</g>
<line x1="91" y1="383.7" x2="642" y2="383.7" stroke="#dcdcdc" stroke-width="1"/>
<rect x="210" y="68" width="11" height="11" fill="#4472c4"/><text x="226.05" y="79" class="lg" textLength="22.6" lengthAdjust="spacingAndGlyphs">Up</text>
<rect x="301.2" y="68" width="11" height="11" fill="#70ad47"/><text x="316.2" y="79" class="lg" textLength="31.1" lengthAdjust="spacingAndGlyphs">Flat</text>
<rect x="400" y="68" width="11" height="11" fill="#ffd966"/><text x="414.95" y="79" class="lg" textLength="48.4" lengthAdjust="spacingAndGlyphs">Down</text>
<text x="10.8" y="26.7" class="t1" textLength="66.9" lengthAdjust="spacingAndGlyphs">Exhibit</text>
<text x="83.7" y="26.7" class="t1" textLength="19.9" lengthAdjust="spacingAndGlyphs">5:</text>
<text x="129.0" y="27" class="t2" textLength="106.7" lengthAdjust="spacingAndGlyphs">Secondary</text>
<text x="243.3" y="27" class="t2" textLength="82.35" lengthAdjust="spacingAndGlyphs">housing</text>
<text x="331.7" y="27" class="t2" textLength="113.1" lengthAdjust="spacingAndGlyphs">transaction</text>
<text x="449.7" y="27" class="t2" textLength="50.5" lengthAdjust="spacingAndGlyphs">price</text>
<text x="505.6" y="27" class="t2" textLength="49.3" lengthAdjust="spacingAndGlyphs">m-m</text>
<text x="9.95" y="502.4" class="src" textLength="48.1" lengthAdjust="spacingAndGlyphs">Source:</text>
<text x="60.85" y="502.4" class="src" textLength="61.5" lengthAdjust="spacingAndGlyphs">Bingshan,</text>
<text x="124.8" y="502.4" class="src" textLength="48.5" lengthAdjust="spacingAndGlyphs">Morgan</text>
<text x="176.7" y="502.4" class="src" textLength="43.8" lengthAdjust="spacingAndGlyphs">Stanley</text>
<text x="226.3" y="502.4" class="src" textLength="58.7" lengthAdjust="spacingAndGlyphs">Research</text>
<text transform="translate(72.1,389.40) scale(1.015,1)" text-anchor="end" class="ax">0%</text>
<text transform="translate(72.1,360.69) scale(1.015,1)" text-anchor="end" class="ax">10%</text>
<text transform="translate(72.1,331.98) scale(1.015,1)" text-anchor="end" class="ax">20%</text>
<text transform="translate(72.1,303.27) scale(1.015,1)" text-anchor="end" class="ax">30%</text>
<text transform="translate(72.1,274.56) scale(1.015,1)" text-anchor="end" class="ax">40%</text>
<text transform="translate(72.1,245.85) scale(1.015,1)" text-anchor="end" class="ax">50%</text>
<text transform="translate(72.1,217.14) scale(1.015,1)" text-anchor="end" class="ax">60%</text>
<text transform="translate(72.1,188.43) scale(1.015,1)" text-anchor="end" class="ax">70%</text>
<text transform="translate(72.1,159.72) scale(1.015,1)" text-anchor="end" class="ax">80%</text>
<text transform="translate(72.1,131.01) scale(1.015,1)" text-anchor="end" class="ax">90%</text>
<text transform="translate(72.1,102.30) scale(1.015,1)" text-anchor="end" class="ax">100%</text>
<text transform="translate(99.90,397.6) rotate(-90) scale(0.975,1)" text-anchor="end" class="xl">Jan-16</text>
<text transform="translate(127.42,397.6) rotate(-90) scale(0.975,1)" text-anchor="end" class="xl">Jul-16</text>
<text transform="translate(154.93,397.6) rotate(-90) scale(0.975,1)" text-anchor="end" class="xl">Jan-17</text>
<text transform="translate(182.45,397.6) rotate(-90) scale(0.975,1)" text-anchor="end" class="xl">Jul-17</text>
<text transform="translate(209.96,397.6) rotate(-90) scale(0.975,1)" text-anchor="end" class="xl">Jan-18</text>
<text transform="translate(237.48,397.6) rotate(-90) scale(0.975,1)" text-anchor="end" class="xl">Jul-18</text>
<text transform="translate(265.00,397.6) rotate(-90) scale(0.975,1)" text-anchor="end" class="xl">Jan-19</text>
<text transform="translate(292.51,397.6) rotate(-90) scale(0.975,1)" text-anchor="end" class="xl">Jul-19</text>
<text transform="translate(320.03,397.6) rotate(-90) scale(0.975,1)" text-anchor="end" class="xl">Jan-20</text>
<text transform="translate(347.54,397.6) rotate(-90) scale(0.975,1)" text-anchor="end" class="xl">Jul-20</text>
<text transform="translate(375.06,397.6) rotate(-90) scale(0.975,1)" text-anchor="end" class="xl">Jan-21</text>
<text transform="translate(402.58,397.6) rotate(-90) scale(0.975,1)" text-anchor="end" class="xl">Jul-21</text>
<text transform="translate(430.09,397.6) rotate(-90) scale(0.975,1)" text-anchor="end" class="xl">Jan-22</text>
<text transform="translate(457.61,397.6) rotate(-90) scale(0.975,1)" text-anchor="end" class="xl">Jul-22</text>
<text transform="translate(485.12,397.6) rotate(-90) scale(0.975,1)" text-anchor="end" class="xl">Jan-23</text>
<text transform="translate(512.64,397.6) rotate(-90) scale(0.975,1)" text-anchor="end" class="xl">Jul-23</text>
<text transform="translate(540.16,397.6) rotate(-90) scale(0.975,1)" text-anchor="end" class="xl">Jan-24</text>
<text transform="translate(567.67,397.6) rotate(-90) scale(0.975,1)" text-anchor="end" class="xl">Jul-24</text>
<text transform="translate(595.19,397.6) rotate(-90) scale(0.975,1)" text-anchor="end" class="xl">Jan-25</text>
<text transform="translate(622.70,397.6) rotate(-90) scale(0.975,1)" text-anchor="end" class="xl">Jul-25</text>
</svg>
</body></html>
